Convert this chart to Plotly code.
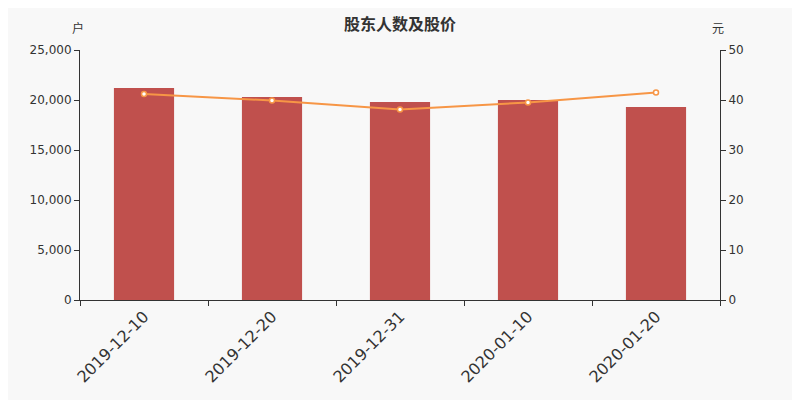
import plotly.graph_objects as go

# values
dates = ['2019-12-10', '2019-12-20', '2019-12-31', '2020-01-10', '2020-01-20']
holders = [21200, 20300, 19800, 20000, 19300]
prices = [41.2, 39.9, 38.1, 39.5, 41.5]

font_family = 'DejaVu Sans, Noto Sans CJK SC, sans-serif'
cjk = 'Noto Sans CJK SC, sans-serif'

fig = go.Figure()
fig.add_trace(go.Bar(x=dates, y=holders, marker_color='#c0504d', marker_line_width=0,
                     width=0.47, name='股东人数', yaxis='y'))
fig.add_trace(go.Scatter(x=dates, y=prices, mode='lines+markers', name='股价',
                         line=dict(color='#f79646', width=2),
                         marker=dict(size=5, color='white',
                                     line=dict(color='#f79646', width=1.5)),
                         yaxis='y2'))

# page body adds 8px offset, so margins are shifted to compensate
fig.update_layout(
    width=800, height=400,
    paper_bgcolor='#f8f8f8', plot_bgcolor='#f8f8f8',
    margin=dict(l=72, r=88, t=42, b=108),
    showlegend=False,
    font=dict(family=font_family, color='#333333', size=12),
    title=dict(text='<b>股东人数及股价</b>', x=0.49, xanchor='center', y=0.96, yanchor='middle',
               font=dict(family=cjk, size=16, color='#333333')),
    xaxis=dict(type='category', tickson='boundaries', ticks='outside', ticklen=5,
               showline=True, linecolor='#333333', linewidth=1, tickcolor='#333333',
               showgrid=False, tickangle=-45, automargin=False,
               tickfont=dict(size=16, color='#333333')),
    yaxis=dict(range=[0, 25000], dtick=5000, tickformat=',', ticks='outside', ticklen=5,
               showline=True, linecolor='#333333', tickcolor='#333333', automargin=False,
               showgrid=False, zeroline=False, tickfont=dict(size=12)),
    yaxis2=dict(range=[0, 50], dtick=10, overlaying='y', side='right', ticks='outside',
                ticklen=5, showline=True, linecolor='#333333', tickcolor='#333333',
                automargin=False, showgrid=False, zeroline=False, tickfont=dict(size=12)),
)

fig.layout.annotations = [
    dict(text='户', x=0, y=1.088, xref='paper', yref='paper', xanchor='center',
         xshift=-2, yanchor='middle', showarrow=False, font=dict(family=cjk, size=12)),
    dict(text='元', x=1, y=1.088, xref='paper', yref='paper', xanchor='center',
         xshift=-2, yanchor='middle', showarrow=False, font=dict(family=cjk, size=12)),
]

fig.write_html('out.html')
